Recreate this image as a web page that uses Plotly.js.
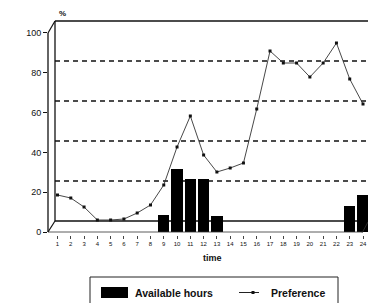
<!DOCTYPE html>
<html>
<head>
<meta charset="utf-8">
<script src="https://cdn.plot.ly/plotly-3.0.1.min.js"></script>
<style>html,body{margin:0;padding:0;background:#fff;}#chart{width:368px;height:303px;}</style>
</head>
<body>
<div id="chart"></div>
<script>
const hours = [1,2,3,4,5,6,7,8,9,10,11,12,13,14,15,16,17,18,19,20,21,22,23,24];
const hourLabels = ['1','2','3','4','5','6','7','8','9','10','11','12','13','14','15','16','17','18','19','20','21','22','23','24'];
const availableHours = [0,0,0,0,0,0,0,0,8.5,31.5,26.5,26.5,8,0,0,0,0,0,0,0,0,0,13,18.5];
const preference = [13,11.5,7,0.5,0.5,1,4,8,18,37,52.5,33,24.5,26.5,29,56,85,79,79,72,79,89,71,58.5];
const yTicks = [0,20,40,60,80,100];
const gridVals = [20,40,60,80];
const seriesNames = ['Available hours','Preference'];

const F = 'Arial, "Liberation Sans", sans-serif';
const px = v => (v-48)/320;
const py = v => (235-v)/220;
const backX = px(55);

const shapes = [];
// back wall frame
shapes.push({type:'line',layer:'below',xref:'paper',yref:'y2',x0:backX,x1:1,y0:100,y1:100,line:{color:'#111',width:1.5}});
shapes.push({type:'line',layer:'below',xref:'paper',yref:'y2',x0:backX,x1:1,y0:0,y1:0,line:{color:'#111',width:1.3}});
shapes.push({type:'line',layer:'below',xref:'paper',yref:'y2',x0:backX,x1:backX,y0:0,y1:100,line:{color:'#111',width:1.3}});
gridVals.forEach(g=>shapes.push({type:'line',layer:'below',xref:'paper',yref:'y2',x0:backX,x1:1,y0:g,y1:g,line:{color:'#111',width:1.4,dash:'5px,4px'}}));
// front axis & floor
shapes.push({type:'line',xref:'paper',yref:'y',x0:0,x1:0,y0:0,y1:100,line:{color:'#111',width:1.3}});
shapes.push({type:'line',xref:'paper',yref:'y',x0:0,x1:px(362),y0:0,y1:0,line:{color:'#333',width:0.8}});
shapes.push({type:'line',xref:'paper',yref:'paper',x0:0,x1:backX,y0:py(33),y1:py(21),line:{color:'#111',width:1.2}});
shapes.push({type:'line',xref:'paper',yref:'paper',x0:0,x1:backX,y0:py(232),y1:py(221),line:{color:'#111',width:1.2}});
shapes.push({type:'line',xref:'paper',yref:'paper',x0:px(362),x1:1,y0:py(233),y1:py(222),line:{color:'#333',width:0.8}});
// legend box
shapes.push({type:'rect',xref:'paper',yref:'paper',x0:px(90),x1:px(338),y0:py(320),y1:py(277),line:{color:'#222',width:1},fillcolor:'rgba(0,0,0,0)'});
shapes.push({type:'rect',xref:'paper',yref:'paper',x0:px(101),x1:px(128),y0:py(298),y1:py(287),line:{width:0},fillcolor:'#000'});
shapes.push({type:'line',xref:'paper',yref:'paper',x0:px(239),x1:px(259),y0:py(292.5),y1:py(292.5),line:{color:'#222',width:1}});
shapes.push({type:'rect',xref:'paper',yref:'paper',x0:px(251.5),x1:px(254.5),y0:py(294),y1:py(291),line:{width:0},fillcolor:'#111'});

const annotations = [
  {text:'%',xref:'paper',yref:'paper',x:px(57),y:py(13),yanchor:'middle',showarrow:false,font:{family:F,size:8,color:'#111',weight:'bold'}},
  {text:'time',xref:'paper',yref:'paper',x:px(212),y:py(258),yanchor:'middle',showarrow:false,font:{family:F,size:9,color:'#111',weight:'bold'}},
  {text:seriesNames[0],xref:'paper',yref:'paper',x:px(133),y:py(292.5),xanchor:'left',yanchor:'middle',showarrow:false,font:{family:F,size:10.5,color:'#111',weight:'bold'}},
  {text:seriesNames[1],xref:'paper',yref:'paper',x:px(269),y:py(292.5),xanchor:'left',yanchor:'middle',showarrow:false,font:{family:F,size:10.5,color:'#111',weight:'bold'}}
];

const traces = [
  {type:'bar',name:seriesNames[0],x:hours,y:availableHours,yaxis:'y',width:0.85,marker:{color:'#000',line:{width:0}},hoverinfo:'none'},
  {type:'scatter',mode:'lines+markers',name:seriesNames[1],x:hours,y:preference,yaxis:'y2',line:{color:'#333',width:0.9},marker:{symbol:'square',size:3,color:'#111'},hoverinfo:'none'}
];

const layout = {
  width:368,height:303,margin:{l:48,r:0,t:15,b:68},
  paper_bgcolor:'#fff',plot_bgcolor:'#fff',showlegend:false,
  xaxis:{range:[0.285,24.376],tickvals:hours,ticktext:hourLabels,ticks:'outside',ticklen:3,tickcolor:'#444',
         tickfont:{family:F,size:6,color:'#111'},showgrid:false,zeroline:false,showline:false},
  yaxis:{range:[-1.5,109],tickvals:yTicks,ticktext:yTicks.map(String),ticks:'outside',ticklen:4,tickcolor:'#111',
         tickfont:{family:F,size:9,color:'#111'},showgrid:false,zeroline:false,showline:false},
  yaxis2:{overlaying:'y',range:[-7,103],visible:false,showgrid:false,zeroline:false},
  shapes:shapes,annotations:annotations,bargap:0
};
Plotly.newPlot('chart',traces,layout,{staticPlot:true,displayModeBar:false});
</script>
</body>
</html>
